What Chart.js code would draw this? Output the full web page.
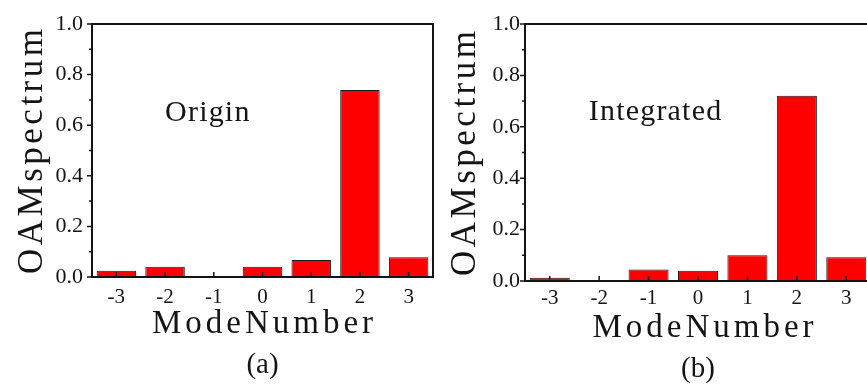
<!DOCTYPE html>
<html>
<head>
<meta charset="utf-8">
<script src="https://cdn.jsdelivr.net/npm/chart.js@4.4.0/dist/chart.umd.min.js"></script>
<style>
  html, body { margin: 0; padding: 0; background: #fff; overflow: hidden; }
  body { width: 867px; height: 386px; position: relative; font-family: 'Liberation Serif'; font-size: 22px; }
  .preload { color: #fff; white-space: nowrap; }
  canvas { position: absolute; top: 0; }
  #chartA { left: 0; }
  #chartB { left: 435px; }
</style>
</head>
<body>
<div class="preload">ModeNumber OAMspectrum Origin Integrated (a) (b) 0.0 -3</div>
<canvas id="chartA" width="436" height="386"></canvas>
<canvas id="chartB" width="440" height="386"></canvas>
<script>
// OAM spectrum per mode number: origin beam vs integrated beam
const modeNumbers = ['-3', '-2', '-1', '0', '1', '2', '3'];
const originSpectrum = [0.025, 0.041, 0, 0.041, 0.067, 0.739, 0.078];
const integratedSpectrum = [0.013, 0, 0.045, 0.040, 0.100, 0.721, 0.092];
const spectrumTicks = [0, 0.2, 0.4, 0.6, 0.8, 1.0];

const SERIF = "'Liberation Serif', serif";
const INK = '#141414';

// draws text one glyph at a time with extra tracking, centred or left-aligned on x
function spacedText(ctx, text, x, y, spacing, align) {
  const widths = [...text].map(ch => ctx.measureText(ch).width);
  const total = widths.reduce((s, w) => s + w, 0) + spacing * (text.length - 1);
  let cx = align === 'center' ? x - total / 2 : x;
  ctx.textAlign = 'left';
  [...text].forEach((ch, i) => {
    ctx.fillText(ch, cx, y);
    cx += widths[i] + spacing;
  });
}

// box frame, tick marks, axis titles and the labels inside/below each panel
const panelDecor = {
  id: 'panelDecor',
  afterDatasetsDraw(chart, args, opts) {
    const { ctx, chartArea: a, scales: { x, y } } = chart;
    ctx.save();
    ctx.strokeStyle = INK;
    ctx.lineWidth = 2;
    ctx.strokeRect(a.left, a.top, a.right - a.left, a.bottom - a.top);

    ctx.lineWidth = 1.5;
    ctx.beginPath();
    // mode ticks point into the plot
    x.ticks.forEach((t, i) => {
      const px = x.getPixelForTick(i);
      ctx.moveTo(px, a.bottom);
      ctx.lineTo(px, a.bottom - 5);
    });
    // spectrum ticks point out, with a minor tick between majors
    y.ticks.forEach((t, i) => {
      const py = y.getPixelForValue(t.value);
      ctx.moveTo(a.left, py);
      ctx.lineTo(a.left - 5, py);
      if (i < y.ticks.length - 1) {
        const pm = y.getPixelForValue(t.value + 0.1);
        ctx.moveTo(a.left, pm);
        ctx.lineTo(a.left - 3, pm);
      }
    });
    ctx.stroke();

    ctx.fillStyle = INK;
    ctx.textBaseline = 'alphabetic';

    ctx.font = '30px ' + SERIF;
    spacedText(ctx, opts.note, x.getPixelForValue(opts.noteAt[0]), y.getPixelForValue(opts.noteAt[1]), 1.2, 'left');

    const midX = (a.left + a.right) / 2;
    ctx.font = '33px ' + SERIF;
    spacedText(ctx, 'ModeNumber', midX + opts.titleShift, a.bottom + 56, 4, 'center');

    ctx.font = '29px ' + SERIF;
    ctx.textAlign = 'center';
    ctx.fillText(opts.tag, midX, a.bottom + 96);

    ctx.save();
    ctx.translate(a.left - 50, (a.top + a.bottom) / 2 + 1);
    ctx.rotate(-Math.PI / 2);
    ctx.font = '35px ' + SERIF;
    spacedText(ctx, 'OAMspectrum', 0, 0, 3.5, 'center');
    ctx.restore();

    ctx.restore();
  }
};

function makePanel(canvasId, values, panel) {
  return new Chart(document.getElementById(canvasId), {
    type: 'bar',
    data: {
      labels: modeNumbers,
      datasets: [{
        data: values,
        backgroundColor: '#ff0000',
        borderColor: '#1a1a1a',
        borderWidth: 1,
        barPercentage: 0.81,
        categoryPercentage: 1
      }]
    },
    options: {
      responsive: false,
      animation: false,
      layout: { padding: { top: 24, right: panel.padRight, bottom: 0, left: 0 } },
      plugins: {
        legend: { display: false },
        tooltip: { enabled: false },
        panelDecor: panel
      },
      scales: {
        x: {
          grid: { display: false, drawTicks: false },
          border: { display: false },
          ticks: {
            font: { family: SERIF, size: 21 },
            color: INK,
            padding: panel.xPad,
            maxRotation: 0,
            autoSkip: false
          },
          afterFit: s => { s.height = panel.xHeight; }
        },
        y: {
          min: 0,
          max: 1,
          grid: { display: false, drawTicks: false },
          border: { display: false },
          ticks: {
            font: { family: SERIF, size: 22 },
            color: INK,
            padding: panel.yPad,
            callback: v => v.toFixed(1)
          },
          afterBuildTicks: s => { s.ticks = spectrumTicks.map(v => ({ value: v })); },
          afterFit: s => { s.width = panel.yWidth; }
        }
      }
    },
    plugins: [panelDecor]
  });
}

// force a layout so the serif face is resolved before the canvases draw
document.body.offsetHeight;

const charts = [
  makePanel('chartA', originSpectrum, {
    note: 'Origin', noteAt: [1, 0.617], tag: '(a)', titleShift: 0,
    yWidth: 92, xHeight: 109, padRight: 3, xPad: 8, yPad: 9
  }),
  makePanel('chartB', integratedSpectrum, {
    note: 'Integrated', noteAt: [0.79, 0.626], tag: '(b)', titleShift: 5,
    yWidth: 90, xHeight: 105, padRight: 4, xPad: 5, yPad: 5
  })
];

// redraw once the font set is settled
document.fonts.ready.then(() => charts.forEach(c => c.update()));
</script>
</body>
</html>
